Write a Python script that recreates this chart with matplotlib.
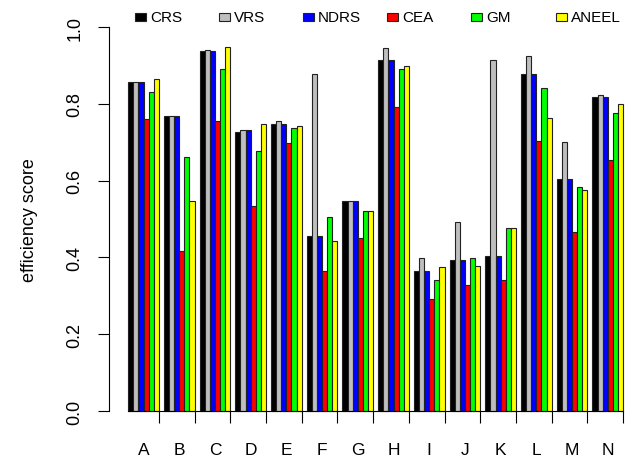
import numpy as np
import matplotlib
matplotlib.use("Agg")
import matplotlib.pyplot as plt
from matplotlib.patches import Rectangle

plt.rcParams['font.family'] = ['Liberation Sans', 'DejaVu Sans']

## data
units = ['A', 'B', 'C', 'D', 'E', 'F', 'G', 'H', 'I', 'J', 'K', 'L', 'M', 'N']
series = ['CRS', 'VRS', 'NDRS', 'CEA', 'GM', 'ANEEL']
crs = [0.856, 0.769, 0.938, 0.727, 0.747, 0.457, 0.548, 0.915, 0.365, 0.394, 0.405, 0.879, 0.605, 0.819]
vrs = [0.856, 0.769, 0.941, 0.733, 0.756, 0.879, 0.548, 0.946, 0.398, 0.493, 0.914, 0.924, 0.700, 0.824]
ndrs = [0.856, 0.769, 0.937, 0.733, 0.747, 0.457, 0.548, 0.915, 0.365, 0.394, 0.405, 0.879, 0.605, 0.819]
cea = [0.760, 0.418, 0.756, 0.535, 0.697, 0.364, 0.451, 0.793, 0.292, 0.328, 0.341, 0.703, 0.467, 0.654]
gm = [0.830, 0.662, 0.891, 0.677, 0.737, 0.506, 0.522, 0.891, 0.340, 0.398, 0.476, 0.842, 0.584, 0.775]
aneel = [0.865, 0.546, 0.947, 0.747, 0.743, 0.444, 0.522, 0.898, 0.374, 0.378, 0.476, 0.763, 0.575, 0.799]
values = [crs, vrs, ndrs, cea, gm, aneel]
colors = ['black', '#bebebe', '#0000ff', '#ff0000', '#00ff00', '#ffff00']

W, H = 634, 460
fig = plt.figure(figsize=(W / 100, H / 100), dpi=100)
# R-like plot region (xaxs = "r"), runs a bit past the right edge
ax = fig.add_axes([108.5 / W, (H - 427.4) / H, 534.3 / W, 414.7 / H])

n_ser = len(series)
step = n_ser + 1
group_start = 1 + step * np.arange(len(units))
for i, (vals, col) in enumerate(zip(values, colors)):
    ax.bar(group_start + i, vals, width=1, align='edge', color=col,
           edgecolor='#222222', linewidth=0.8)

ax.set_xlim(-2.88, 101.88)
ax.set_ylim(-0.04, 1.04)

for s in ['top', 'right']:
    ax.spines[s].set_visible(False)
ax.spines['left'].set_bounds(0, 1)
ax.spines['bottom'].set_position(('data', 0))
ax.spines['bottom'].set_bounds(1, group_start[-1] + n_ser)

yticks = np.arange(0, 1.01, 0.2)
ax.set_yticks(yticks)
ax.set_yticklabels([f"{v:.1f}" for v in yticks], va='center')
ax.tick_params(axis='y', length=8, width=0.8, labelsize=13, labelrotation=90, pad=10)

# ticks at group ends, letters at group centres
ax.set_xticks(group_start + n_ser)
ax.set_xticklabels([])
ax.set_xticks(group_start + n_ser / 2, minor=True)
ax.set_xticklabels(units, minor=True)
ax.tick_params(axis='x', which='major', length=8.5, width=0.8)
ax.tick_params(axis='x', which='minor', length=0, labelsize=12.5, pad=22)

ax.set_ylabel('efficiency score', fontsize=13, va='center')
ax.yaxis.set_label_coords((30 - 108.5) / 534.3, 0.5)

# horizontal legend above the plot
for i, (name, col) in enumerate(zip(series, colors)):
    x0 = 135 + 84.1 * i
    fig.add_artist(Rectangle((x0 / W, (H - 22) / H), 11 / W, 8 / H,
                             transform=fig.transFigure, facecolor=col,
                             edgecolor='#222222', linewidth=0.8))
    fig.text((x0 + 15) / W, (H - 17.5) / H, name, fontsize=11, va='center', ha='left')

plt.savefig('out.png', dpi=100)
